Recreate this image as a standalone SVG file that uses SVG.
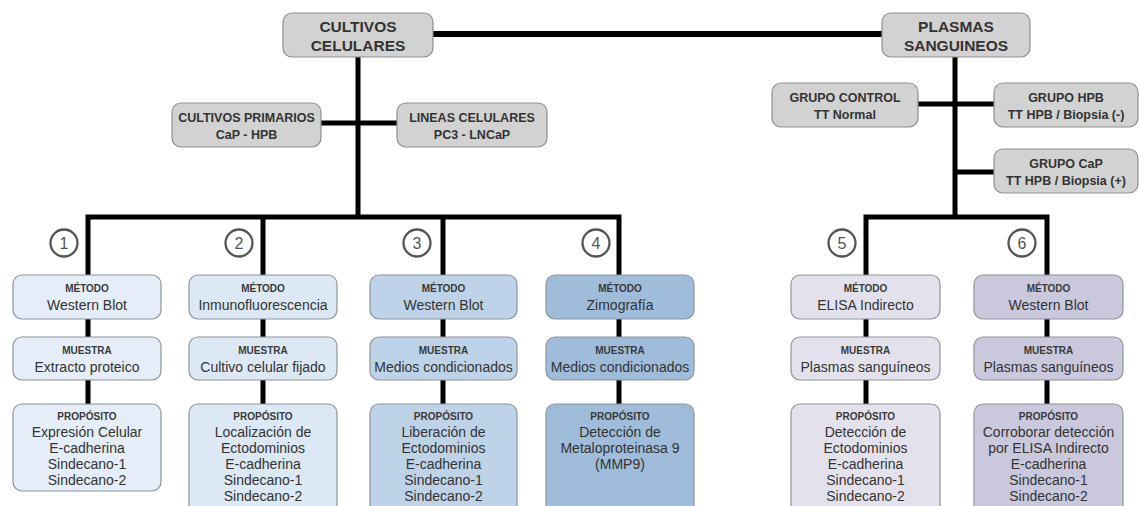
<svg xmlns="http://www.w3.org/2000/svg" width="1139" height="506" viewBox="0 0 1139 506">
<style>
text{font-family:"Liberation Sans",Arial,sans-serif;text-anchor:middle;fill:#333}
.top{font-size:15.5px;font-weight:bold}
.mid{font-size:12.5px;font-weight:bold}
.hd{font-size:10px;font-weight:bold;fill:#3a3a3a}
.bd{font-size:14px}
.num{font-size:16px;fill:#555}
.gray{fill:#d2d2d2;stroke:#8f8f8f;stroke-width:1.2}
.box{stroke:#8c949c;stroke-width:1.2}
.c1{fill:#e5eef8}.c2{fill:#dce8f4}.c3{fill:#bed2e8}.c4{fill:#9fbcdb}.c5{fill:#e3e2ec}.c6{fill:#c9c8dc}
.ln{stroke:#000;stroke-width:5;fill:none}
.circ{fill:#fff;stroke:#555;stroke-width:2.3}
</style>
<rect width="1139" height="506" fill="#fff"/>
<g id="connectors">
<line class="ln" x1="433" y1="34" x2="882" y2="34" style="stroke-width:6"/>
<line class="ln" x1="358" y1="57" x2="358" y2="219"/>
<line class="ln" x1="321" y1="123" x2="397" y2="123"/>
<polyline class="ln" points="88,275 88,217 619,217 619,275"/>
<line class="ln" x1="263" y1="217" x2="263" y2="275"/>
<line class="ln" x1="443" y1="217" x2="443" y2="275"/>
<line class="ln" x1="955" y1="57" x2="955" y2="219"/>
<line class="ln" x1="918" y1="104" x2="994" y2="104"/>
<line class="ln" x1="955" y1="172" x2="994" y2="172"/>
<polyline class="ln" points="866,275 866,217 1047,217 1047,275"/>
<g>
<line class="ln" x1="88" y1="319" x2="88" y2="337"/><line class="ln" x1="88" y1="380" x2="88" y2="404"/>
<line class="ln" x1="263" y1="319" x2="263" y2="337"/><line class="ln" x1="263" y1="380" x2="263" y2="404"/>
<line class="ln" x1="443" y1="319" x2="443" y2="337"/><line class="ln" x1="443" y1="380" x2="443" y2="404"/>
<line class="ln" x1="619" y1="319" x2="619" y2="337"/><line class="ln" x1="619" y1="380" x2="619" y2="404"/>
<line class="ln" x1="866" y1="319" x2="866" y2="337"/><line class="ln" x1="866" y1="380" x2="866" y2="404"/>
<line class="ln" x1="1047" y1="319" x2="1047" y2="337"/><line class="ln" x1="1047" y1="380" x2="1047" y2="404"/>
</g>
</g>
<g id="cultivos">
<rect class="gray" x="283" y="13" width="150" height="44" rx="9"/>
<text class="top" x="358" y="32">CULTIVOS</text><text class="top" x="358" y="51">CELULARES</text>
</g>
<g id="plasmas">
<rect class="gray" x="882" y="13" width="148" height="44" rx="9"/>
<text class="top" x="956" y="32">PLASMAS</text><text class="top" x="956" y="51">SANGUINEOS</text>
</g>
<g id="primarios">
<rect class="gray" x="172" y="103" width="149" height="44" rx="9"/>
<text class="mid" x="246.5" y="122">CULTIVOS PRIMARIOS</text><text class="mid" x="246.5" y="139">CaP - HPB</text>
</g>
<g id="lineas">
<rect class="gray" x="397" y="103" width="150" height="44" rx="9"/>
<text class="mid" x="472" y="122">LINEAS CELULARES</text><text class="mid" x="472" y="139">PC3 - LNCaP</text>
</g>
<g id="control">
<rect class="gray" x="772" y="83" width="146" height="44" rx="9"/>
<text class="mid" x="845" y="102">GRUPO CONTROL</text><text class="mid" x="845" y="119">TT Normal</text>
</g>
<g id="hpb">
<rect class="gray" x="994" y="83" width="144" height="44" rx="9"/>
<text class="mid" x="1066" y="102">GRUPO HPB</text><text class="mid" x="1066" y="119">TT HPB  / Biopsia (-)</text>
</g>
<g id="cap">
<rect class="gray" x="994" y="149" width="144" height="44" rx="9"/>
<text class="mid" x="1066" y="168">GRUPO CaP</text><text class="mid" x="1066" y="185">TT HPB  / Biopsia (+)</text>
</g>
<g id="n1"><circle class="circ" cx="64" cy="243" r="13.5"/><text class="num" x="64" y="249">1</text></g>
<g id="n2"><circle class="circ" cx="239" cy="243" r="13.5"/><text class="num" x="239" y="249">2</text></g>
<g id="n3"><circle class="circ" cx="417" cy="243" r="13.5"/><text class="num" x="417" y="249">3</text></g>
<g id="n4"><circle class="circ" cx="596" cy="243" r="13.5"/><text class="num" x="596" y="249">4</text></g>
<g id="n5"><circle class="circ" cx="842" cy="243" r="13.5"/><text class="num" x="842" y="249">5</text></g>
<g id="n6"><circle class="circ" cx="1022" cy="243" r="13.5"/><text class="num" x="1022" y="249">6</text></g>
<g id="col1">
<rect class="box c1" x="13" y="275" width="148" height="44" rx="9"/>
<text class="hd" x="87" y="292">MÉTODO</text><text class="bd" x="87" y="310">Western Blot</text>
<rect class="box c1" x="13" y="337" width="148" height="43" rx="9"/>
<text class="hd" x="87" y="354">MUESTRA</text><text class="bd" x="87" y="372">Extracto proteico</text>
<rect class="box c1" x="13" y="404" width="148" height="87" rx="9"/>
<text class="hd" x="87" y="420">PROPÓSITO</text>
<text class="bd" x="87" y="437">Expresión Celular</text><text class="bd" x="87" y="453">E-cadherina</text><text class="bd" x="87" y="469">Sindecano-1</text><text class="bd" x="87" y="485">Sindecano-2</text>
</g>
<g id="col2">
<rect class="box c2" x="189" y="275" width="148" height="44" rx="9"/>
<text class="hd" x="263" y="292">MÉTODO</text><text class="bd" x="263" y="310">Inmunofluorescencia</text>
<rect class="box c2" x="189" y="337" width="148" height="43" rx="9"/>
<text class="hd" x="263" y="354">MUESTRA</text><text class="bd" x="263" y="372">Cultivo celular fijado</text>
<rect class="box c2" x="189" y="404" width="148" height="110" rx="9"/>
<text class="hd" x="263" y="420">PROPÓSITO</text>
<text class="bd" x="263" y="437">Localización de</text><text class="bd" x="263" y="453">Ectodominios</text><text class="bd" x="263" y="469">E-cadherina</text><text class="bd" x="263" y="485">Sindecano-1</text><text class="bd" x="263" y="501">Sindecano-2</text>
</g>
<g id="col3">
<rect class="box c3" x="370" y="275" width="147" height="44" rx="9"/>
<text class="hd" x="443.5" y="292">MÉTODO</text><text class="bd" x="443.5" y="310">Western Blot</text>
<rect class="box c3" x="370" y="337" width="147" height="43" rx="9"/>
<text class="hd" x="443.5" y="354">MUESTRA</text><text class="bd" x="443.5" y="372">Medios condicionados</text>
<rect class="box c3" x="370" y="404" width="147" height="110" rx="9"/>
<text class="hd" x="443.5" y="420">PROPÓSITO</text>
<text class="bd" x="443.5" y="437">Liberación de</text><text class="bd" x="443.5" y="453">Ectodominios</text><text class="bd" x="443.5" y="469">E-cadherina</text><text class="bd" x="443.5" y="485">Sindecano-1</text><text class="bd" x="443.5" y="501">Sindecano-2</text>
</g>
<g id="col4">
<rect class="box c4" x="546" y="275" width="148" height="44" rx="9"/>
<text class="hd" x="620" y="292">MÉTODO</text><text class="bd" x="620" y="310">Zimografía</text>
<rect class="box c4" x="546" y="337" width="148" height="43" rx="9"/>
<text class="hd" x="620" y="354">MUESTRA</text><text class="bd" x="620" y="372">Medios condicionados</text>
<rect class="box c4" x="546" y="404" width="148" height="110" rx="9"/>
<text class="hd" x="620" y="420">PROPÓSITO</text>
<text class="bd" x="620" y="437">Detección de</text><text class="bd" x="620" y="453">Metaloproteinasa 9</text><text class="bd" x="620" y="469">(MMP9)</text>
</g>
<g id="col5">
<rect class="box c5" x="791" y="275" width="149" height="44" rx="9"/>
<text class="hd" x="865.5" y="292">MÉTODO</text><text class="bd" x="865.5" y="310">ELISA Indirecto</text>
<rect class="box c5" x="791" y="337" width="149" height="43" rx="9"/>
<text class="hd" x="865.5" y="354">MUESTRA</text><text class="bd" x="865.5" y="372">Plasmas sanguíneos</text>
<rect class="box c5" x="791" y="404" width="149" height="110" rx="9"/>
<text class="hd" x="865.5" y="420">PROPÓSITO</text>
<text class="bd" x="865.5" y="437">Detección de</text><text class="bd" x="865.5" y="453">Ectodominios</text><text class="bd" x="865.5" y="469">E-cadherina</text><text class="bd" x="865.5" y="485">Sindecano-1</text><text class="bd" x="865.5" y="501">Sindecano-2</text>
</g>
<g id="col6">
<rect class="box c6" x="974" y="275" width="149" height="44" rx="9"/>
<text class="hd" x="1048.5" y="292">MÉTODO</text><text class="bd" x="1048.5" y="310">Western Blot</text>
<rect class="box c6" x="974" y="337" width="149" height="43" rx="9"/>
<text class="hd" x="1048.5" y="354">MUESTRA</text><text class="bd" x="1048.5" y="372">Plasmas sanguíneos</text>
<rect class="box c6" x="974" y="404" width="149" height="110" rx="9"/>
<text class="hd" x="1048.5" y="420">PROPÓSITO</text>
<text class="bd" x="1048.5" y="437">Corroborar detección</text><text class="bd" x="1048.5" y="453">por ELISA Indirecto</text><text class="bd" x="1048.5" y="469">E-cadherina</text><text class="bd" x="1048.5" y="485">Sindecano-1</text><text class="bd" x="1048.5" y="501">Sindecano-2</text>
</g>
</svg>
